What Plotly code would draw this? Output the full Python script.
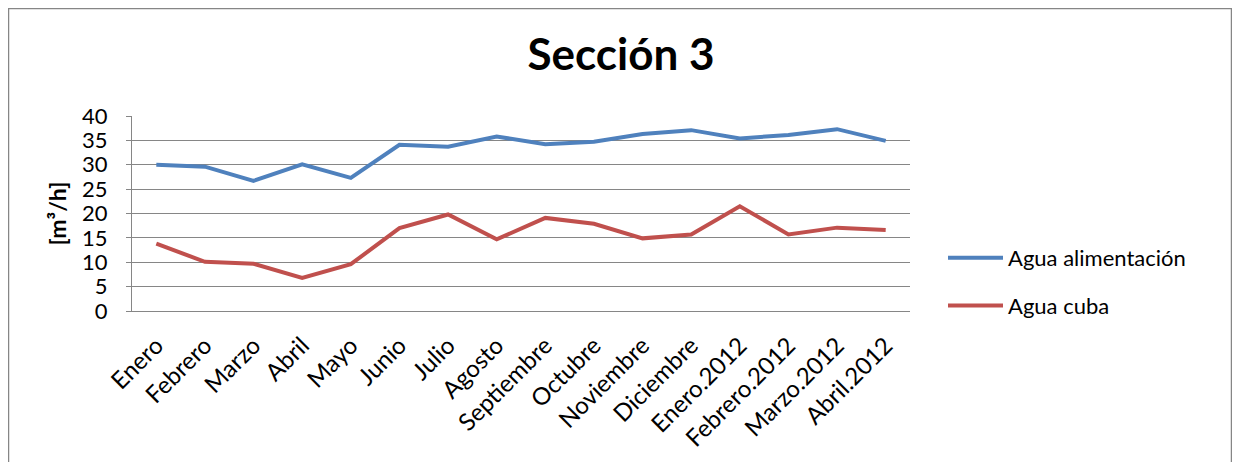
import plotly.graph_objects as go

months = ["Enero", "Febrero", "Marzo", "Abril", "Mayo", "Junio", "Julio", "Agosto",
          "Septiembre", "Octubre", "Noviembre", "Diciembre", "Enero.2012",
          "Febrero.2012", "Marzo.2012", "Abril.2012"]
agua_alimentacion = [30.0, 29.6, 26.7, 30.1, 27.3, 34.1, 33.7, 35.8,
                     34.2, 34.7, 36.3, 37.1, 35.4, 36.1, 37.3, 34.9]
agua_cuba = [13.8, 10.1, 9.7, 6.8, 9.6, 17.0, 19.8, 14.7,
             19.1, 17.9, 14.9, 15.7, 21.5, 15.7, 17.1, 16.6]
y_ticks = [0, 5, 10, 15, 20, 25, 30, 35, 40]

FONT = "Lato"
OFF = 8  # default body margin of the html page

fig = go.Figure()
fig.add_trace(go.Scatter(x=months, y=agua_alimentacion, mode="lines",
                         name="Agua alimentación", legendgroup="a",
                         line=dict(color="#4F81BD", width=4)))
fig.add_trace(go.Scatter(x=months, y=agua_cuba, mode="lines",
                         name="Agua cuba", legendgroup="b",
                         line=dict(color="#C0504D", width=4)))

# plot area in page pixels
L, R, T, B = 132, 910, 116, 311
W, H = 1240 - 2 * OFF, 470 - 2 * OFF
pw, ph = R - L, B - T

def px(x):
    return (x - L) / pw

def py(y):
    return (B - y) / ph

fig.update_layout(
    width=W, height=H,
    margin=dict(l=L - OFF, r=W - (R - OFF), t=T - OFF, b=H - (B - OFF), autoexpand=False),
    paper_bgcolor="white", plot_bgcolor="white",
    font=dict(family=FONT, size=22, color="black"),
    title=dict(text="<b>Sección 3</b>", x=(621 - OFF) / W, xref="container", xanchor="center",
               y=1 - (55 - OFF) / H, yref="container", yanchor="middle",
               font=dict(size=44, family=FONT)),
    showlegend=True,
    legend=dict(x=px(943), y=py(237), xanchor="left", yanchor="top",
                font=dict(size=22, family=FONT), tracegroupgap=16,
                bgcolor="rgba(0,0,0,0)", itemwidth=55),
    xaxis=dict(type="category", tickangle=-45, showgrid=False,
               showline=True, linecolor="#868686", linewidth=1,
               ticks="", tickfont=dict(size=24, family=FONT),
               ticklabelstandoff=10,
               range=[-0.5, len(months) - 0.5]),
    yaxis=dict(range=[0, 40], tickvals=y_ticks, showgrid=True,
               gridcolor="#868686", gridwidth=1, showline=True,
               linecolor="#868686", linewidth=1, ticks="outside", ticklen=5,
               tickcolor="#868686", tickfont=dict(size=22, family=FONT),
               ticklabelstandoff=14,
               title=dict(text="<b>[m³/h]</b>", font=dict(size=23, family=FONT), standoff=9)),
    shapes=[dict(type="rect", xref="paper", yref="paper",
                 x0=px(8.5), x1=px(1231.5), y0=py(520), y1=py(8.5),
                 line=dict(color="#868686", width=1.5), fillcolor="rgba(0,0,0,0)",
                 layer="below")],
)

fig.write_html("out.html")
